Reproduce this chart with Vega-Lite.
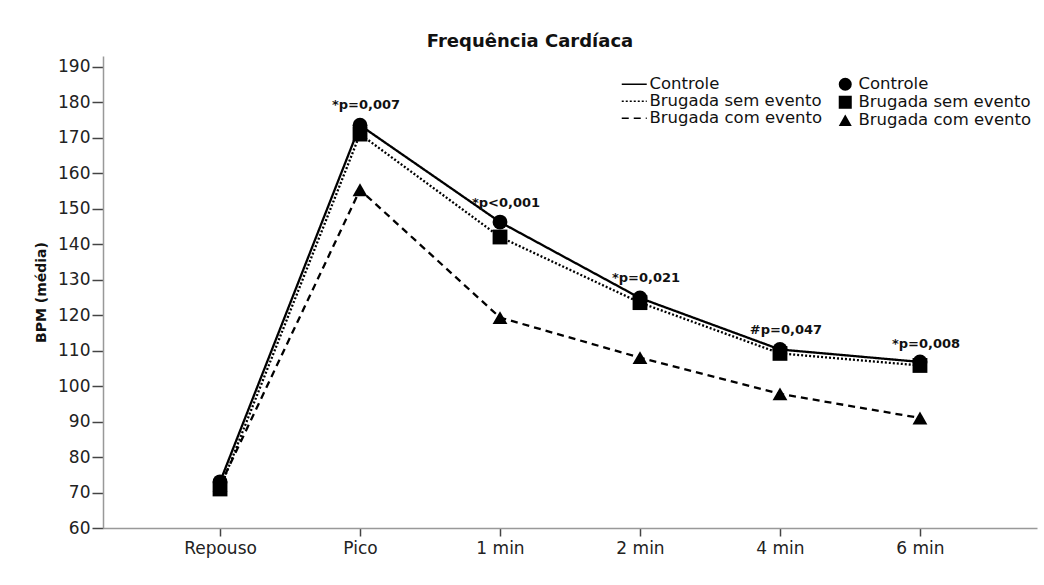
{
  "$schema": "https://vega.github.io/schema/vega-lite/v6.json",
  "width": 934,
  "height": 472,
  "autosize": "none",
  "padding": {"left": 103, "top": 56, "right": 7, "bottom": 57},
  "background": "white",
  "title": {"text": "Frequência Cardíaca", "font": "DejaVu Sans", "fontSize": 18, "fontWeight": "bold", "color": "#111", "frame": "group", "anchor": "middle", "dx": -40, "offset": 5},
  "datasets": {
    "fc": [
      {"momento": "Repouso", "grupo": "Controle", "bpm": 73},
      {"momento": "Pico", "grupo": "Controle", "bpm": 173.5},
      {"momento": "1 min", "grupo": "Controle", "bpm": 146.2},
      {"momento": "2 min", "grupo": "Controle", "bpm": 124.8},
      {"momento": "4 min", "grupo": "Controle", "bpm": 110.3},
      {"momento": "6 min", "grupo": "Controle", "bpm": 106.8},
      {"momento": "Repouso", "grupo": "Brugada sem evento", "bpm": 71},
      {"momento": "Pico", "grupo": "Brugada sem evento", "bpm": 171},
      {"momento": "1 min", "grupo": "Brugada sem evento", "bpm": 142},
      {"momento": "2 min", "grupo": "Brugada sem evento", "bpm": 123.5},
      {"momento": "4 min", "grupo": "Brugada sem evento", "bpm": 109.2},
      {"momento": "6 min", "grupo": "Brugada sem evento", "bpm": 105.8},
      {"momento": "Repouso", "grupo": "Brugada com evento", "bpm": 72},
      {"momento": "Pico", "grupo": "Brugada com evento", "bpm": 155.3},
      {"momento": "1 min", "grupo": "Brugada com evento", "bpm": 119.3},
      {"momento": "2 min", "grupo": "Brugada com evento", "bpm": 108},
      {"momento": "4 min", "grupo": "Brugada com evento", "bpm": 97.8},
      {"momento": "6 min", "grupo": "Brugada com evento", "bpm": 91}
    ],
    "anot": [
      {"momento": "Pico", "bpm": 179.2, "texto": "*p=0,007"},
      {"momento": "1 min", "bpm": 151.6, "texto": "*p<0,001"},
      {"momento": "2 min", "bpm": 130.4, "texto": "*p=0,021"},
      {"momento": "4 min", "bpm": 115.8, "texto": "#p=0,047"},
      {"momento": "6 min", "bpm": 111.8, "texto": "*p=0,008"}
    ]
  },
  "encoding": {
    "x": {
      "field": "momento", "type": "ordinal",
      "sort": ["Repouso", "Pico", "1 min", "2 min", "4 min", "6 min"],
      "scale": {"type": "point", "padding": 0.836},
      "axis": {"title": null, "labelFont": "DejaVu Sans", "labelFontSize": 17, "labelColor": "#222", "labelAngle": 0, "tickSize": 8, "tickColor": "#444", "tickWidth": 1.5, "domainColor": "#999", "domainWidth": 1.5, "labelPadding": 4, "grid": false}
    },
    "y": {
      "field": "bpm", "type": "quantitative",
      "scale": {"domain": [60, 193], "nice": false, "zero": false},
      "axis": {"values": [60, 70, 80, 90, 100, 110, 120, 130, 140, 150, 160, 170, 180, 190], "title": "BPM (média)", "titleFont": "DejaVu Sans", "titleFontSize": 14, "titleFontWeight": "bold", "titleColor": "#111", "titlePadding": 9, "labelFont": "DejaVu Sans", "labelFontSize": 17, "labelColor": "#222", "tickSize": 11, "tickColor": "#444", "tickWidth": 1.5, "domainColor": "#999", "domainWidth": 1.5, "labelPadding": 2, "grid": false}
    }
  },
  "layer": [
    {
      "data": {"name": "fc"},
      "mark": {"type": "line", "color": "black", "strokeWidth": 2.3},
      "encoding": {
        "strokeDash": {
          "field": "grupo", "type": "nominal",
          "scale": {"domain": ["Controle", "Brugada sem evento", "Brugada com evento"], "range": [[1, 0], [2, 2], [7, 5]]},
          "legend": {"title": null, "orient": "none", "legendX": 523, "legendY": 20, "padding": 0, "symbolType": "M-2.5,0L2.5,0", "symbolSize": 100, "symbolStrokeColor": "black", "symbolStrokeWidth": 1.5, "labelFont": "DejaVu Sans", "labelFontSize": 16.5, "labelColor": "#111", "labelOffset": 7, "labelLimit": 400, "rowPadding": 0}
        }
      }
    },
    {
      "data": {"name": "fc"},
      "mark": {"type": "point", "filled": true, "color": "black", "size": 220, "opacity": 1},
      "encoding": {
        "shape": {
          "field": "grupo", "type": "nominal",
          "scale": {"domain": ["Controle", "Brugada sem evento", "Brugada com evento"], "range": ["circle", "square", "triangle-up"]},
          "legend": {"title": null, "orient": "none", "legendX": 734, "legendY": 20, "padding": 0, "symbolSize": 170, "symbolFillColor": "black", "symbolStrokeColor": "black", "symbolOpacity": 1, "labelFont": "DejaVu Sans", "labelFontSize": 16.5, "labelColor": "#111", "labelOffset": 5, "labelLimit": 400, "rowPadding": -4.5}
        }
      }
    },
    {
      "data": {"name": "anot"},
      "mark": {"type": "text", "font": "DejaVu Sans", "fontSize": 13, "fontWeight": "bold", "color": "#111", "dx": 6, "baseline": "middle"},
      "encoding": {"text": {"field": "texto"}}
    }
  ],
  "resolve": {"legend": {"strokeDash": "independent", "shape": "independent"}},
  "config": {"view": {"stroke": null}}
}
